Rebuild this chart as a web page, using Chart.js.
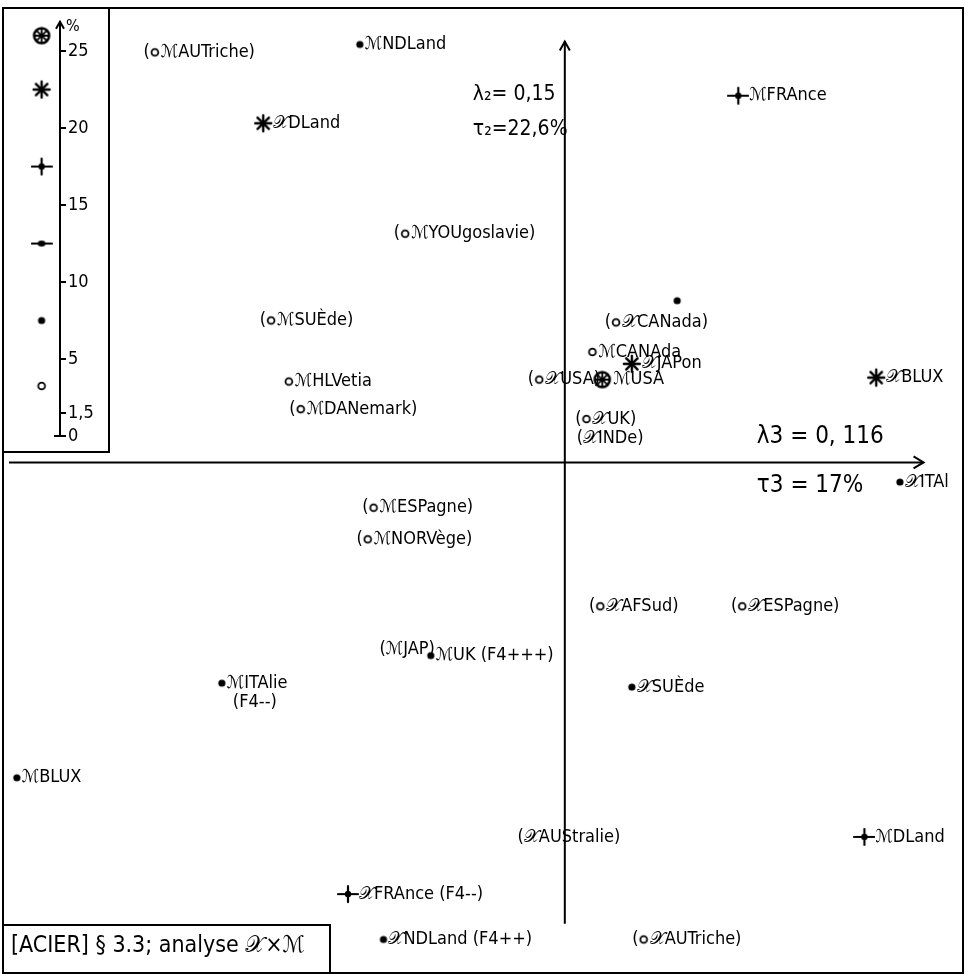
<!DOCTYPE html>
<html lang="fr">
<head>
<meta charset="UTF-8">
<title>ACIER - analyse X x M</title>
<script src="https://cdn.jsdelivr.net/npm/chart.js@4.4.1/dist/chart.umd.min.js"></script>
<style>
  html, body { margin: 0; padding: 0; background: #fff; }
  #wrap { position: relative; width: 968px; height: 977px; }
  #main { position: absolute; left: 0; top: 0; }
  #legendBox { position: absolute; left: 2px; top: 7px; width: 104px; height: 442px;
               border: 2px solid #000; background: #fff; }
</style>
</head>
<body>
<div id="wrap">
  <canvas id="main" width="968" height="977"></canvas>
  <div id="legendBox"><canvas id="scale" width="104" height="442"></canvas></div>
</div>

<script>
    // points of the plane (factor 3 horizontal, factor 2 vertical)
    const names = ['ℳAUTriche', 'ℳNDLand', '𝒳DLand', 'ℳFRAnce', 'ℳYOUgoslavie', 'ℳSUÈde',
        'ℳHLVetia', 'ℳDANemark', '', '𝒳CANada', 'ℳCANAda', '𝒳JAPon', '𝒳USA', 'ℳUSA',
        '𝒳BLUX', '𝒳UK', '𝒳INDe', '𝒳ITAl', 'ℳESPagne', 'ℳNORVège', '𝒳AFSud', '𝒳ESPagne',
        'ℳJAP', 'ℳUK', 'ℳITAlie', '𝒳SUÈde', 'ℳBLUX', '𝒳AUStralie', 'ℳDLand', '𝒳FRAnce',
        '𝒳NDLand', '𝒳AUTriche'];
    const factor3 = [-1.04, -0.52, -0.765, 0.44, -0.405, -0.745, -0.70, -0.67, 0.285, 0.13,
        0.07, 0.17, -0.065, 0.095, 0.79, 0.055, 0.03, 0.85, -0.485, -0.50, 0.09, 0.45,
        -0.47, -0.34, -0.87, 0.17, -1.39, -0.12, 0.76, -0.55, -0.46, 0.20];
    const factor2 = [1.04, 1.06, 0.86, 0.93, 0.58, 0.36, 0.205, 0.135, 0.41, 0.355,
        0.28, 0.25, 0.21, 0.21, 0.215, 0.11, 0.06, -0.05, -0.115, -0.195, -0.365, -0.365,
        -0.475, -0.49, -0.56, -0.57, -0.8, -0.95, -0.95, -1.095, -1.21, -1.21];
    // contribution class of each point (see the scale in the corner)
    const kinds = ['ring', 'dot', 'star', 'cross', 'ring', 'ring', 'ring', 'ring', 'dot', 'ring',
        'ring', 'star', 'ring', 'big', 'star', 'ring', 'none', 'dot', 'ring', 'ring', 'ring', 'ring',
        'none', 'dot', 'dot', 'dot', 'dot', 'none', 'cross', 'cross', 'dot', 'ring'];
    const inParens = [1, 0, 0, 0, 1, 1, 0, 1, 0, 1, 0, 0, 1, 0, 0, 1, 1, 0, 1, 1, 1, 1,
        1, 0, 0, 0, 0, 1, 0, 0, 0, 1];
    const notes = {23: '(F4+++)', 24: '\n(F4--)', 29: '(F4--)', 30: '(F4++)'};

    // scale of contributions (%)
    const legendLevels = [26, 22.5, 17.5, 12.5, 7.5, 3.25];
    const legendKinds = ['big', 'star', 'cross', 'dash', 'dot', 'ring'];
    const legendTicks = [0, 1.5, 5, 10, 15, 20, 25];

    const FONT = '"DejaVu Sans Condensed", "DejaVu Sans", sans-serif';

    function makeMark(kind) {
        const c = document.createElement('canvas');
        c.width = 22; c.height = 22;
        const g = c.getContext('2d');
        g.strokeStyle = '#000'; g.fillStyle = '#000'; g.lineCap = 'round';
        g.translate(11, 11);
        if (kind === 'big') {
            g.lineWidth = 2.6;
            g.beginPath(); g.arc(0, 0, 7.5, 0, Math.PI * 2); g.stroke();
            g.lineWidth = 1.8;
            for (let k = 0; k < 4; k++) {
                const a = k * Math.PI / 4;
                g.beginPath(); g.moveTo(-7 * Math.cos(a), -7 * Math.sin(a));
                g.lineTo(7 * Math.cos(a), 7 * Math.sin(a)); g.stroke();
            }
        } else if (kind === 'star') {
            g.lineWidth = 2.4;
            for (let k = 0; k < 4; k++) {
                const a = k * Math.PI / 4;
                g.beginPath(); g.moveTo(-8 * Math.cos(a), -8 * Math.sin(a));
                g.lineTo(8 * Math.cos(a), 8 * Math.sin(a)); g.stroke();
            }
        } else if (kind === 'cross') {
            g.lineWidth = 2.2;
            g.beginPath(); g.moveTo(-10, 0); g.lineTo(10, 0); g.moveTo(0, -8); g.lineTo(0, 8); g.stroke();
            g.beginPath(); g.arc(0, 0, 3.2, 0, Math.PI * 2); g.fill();
        } else if (kind === 'dash') {
            g.lineWidth = 2.2;
            g.beginPath(); g.moveTo(-10, 0); g.lineTo(10, 0); g.stroke();
            g.beginPath(); g.ellipse(0, 0, 4, 3, 0, 0, Math.PI * 2); g.fill();
        } else if (kind === 'dot') {
            g.beginPath(); g.arc(0, 0, 3.6, 0, Math.PI * 2); g.fill();
        } else if (kind === 'ring') {
            g.lineWidth = 1.8;
            g.beginPath(); g.arc(0, 0, 3.4, 0, Math.PI * 2); g.stroke();
        }
        return c;
    }
    const marks = {};
    ['big', 'star', 'cross', 'dash', 'dot', 'ring'].forEach(k => marks[k] = makeMark(k));
    const markGap = {big: 11, star: 10, cross: 11, dash: 11, dot: 5, ring: 6, none: 0};

    const framePlugin = {
        id: 'frame',
        beforeDatasetsDraw(chart) {
            const ctx = chart.ctx;
            const x = chart.scales.x, y = chart.scales.y;
            ctx.save();
            ctx.strokeStyle = '#000'; ctx.fillStyle = '#000';
            ctx.lineWidth = 2;
            ctx.strokeRect(3, 8, 960, 965);
            // axes through the origin
            const x0 = x.getPixelForValue(0), y0 = y.getPixelForValue(0);
            const top = y.getPixelForValue(1.0675), bottom = y.getPixelForValue(-1.17);
            const left = x.getPixelForValue(-1.41), right = x.getPixelForValue(0.91);
            ctx.beginPath();
            ctx.moveTo(x0, bottom); ctx.lineTo(x0, top);
            ctx.moveTo(left, y0); ctx.lineTo(right, y0);
            ctx.stroke();
            ctx.beginPath();
            ctx.moveTo(x0 - 5, top + 9); ctx.lineTo(x0, top); ctx.lineTo(x0 + 5, top + 9);
            ctx.moveTo(right - 10, y0 - 6); ctx.lineTo(right, y0); ctx.lineTo(right - 10, y0 + 6);
            ctx.stroke();
            // eigenvalues and inertia rates
            ctx.font = '21px ' + FONT;
            ctx.textBaseline = 'middle'; ctx.textAlign = 'left';
            ctx.fillText('λ₂= 0,15', x0 - 92, 95);
            ctx.fillText('τ₂=22,6%', x0 - 92, 130);
            ctx.font = '24px ' + FONT;
            ctx.fillText('λ3 = 0, 116', x0 + 192, 437);
            ctx.fillText('τ3 = 17%', x0 + 192, 486);
            // title box
            ctx.fillStyle = '#fff';
            ctx.fillRect(3, 925, 327, 48);
            ctx.strokeRect(3, 925, 327, 48);
            ctx.fillStyle = '#000';
            ctx.font = '23px ' + FONT;
            ctx.fillText('[ACIER] § 3.3; analyse 𝒳×ℳ', 11, 946);
            ctx.restore();
        }
    };

    const labelPlugin = {
        id: 'labels',
        afterDatasetsDraw(chart) {
            const ctx = chart.ctx;
            const meta = chart.getDatasetMeta(0);
            ctx.save();
            ctx.beginPath(); ctx.rect(4, 9, 958, 963); ctx.clip();
            ctx.font = '18px ' + FONT;
            ctx.fillStyle = '#000';
            ctx.textBaseline = 'middle';
            meta.data.forEach((pt, i) => {
                if (!names[i]) return;
                const gap = markGap[kinds[i]];
                let text = names[i];
                if (inParens[i]) {
                    if (kinds[i] === 'none') {
                        text = '(' + text;
                    } else {
                        ctx.textAlign = 'right';
                        ctx.fillText('(', pt.x - gap + 1, pt.y);
                    }
                    text += ')';
                }
                const note = notes[i];
                if (note && note[0] !== '\n') text += ' ' + note;
                ctx.textAlign = 'left';
                ctx.fillText(text, pt.x + gap, pt.y);
                if (note && note[0] === '\n') ctx.fillText(note.slice(1), pt.x + gap + 6, pt.y + 19);
            });
            ctx.restore();
        }
    };

    new Chart(document.getElementById('main'), {
        type: 'scatter',
        data: {
            datasets: [{
                data: names.map((n, i) => ({x: factor3[i], y: factor2[i]})),
                pointStyle: c => marks[kinds[c.dataIndex]] || 'circle',
                pointRadius: c => kinds[c.dataIndex] === 'none' ? 0 : 6,
                pointHoverRadius: c => kinds[c.dataIndex] === 'none' ? 0 : 6,
                backgroundColor: '#000',
                borderColor: '#000'
            }]
        },
        options: {
            responsive: false,
            animation: false,
            events: [],
            layout: {padding: 0},
            plugins: {legend: {display: false}, tooltip: {enabled: false}},
            scales: {
                x: {display: false, min: -1.415, max: 1.005},
                y: {display: false, min: -1.2875, max: 1.155}
            }
        },
        plugins: [framePlugin, labelPlugin]
    });

    const scaleDeco = {
        id: 'scaleDeco',
        afterDraw(chart) {
            const ctx = chart.ctx;
            const a = chart.chartArea;
            ctx.save();
            ctx.strokeStyle = '#000'; ctx.fillStyle = '#000'; ctx.lineWidth = 2;
            ctx.beginPath();
            ctx.moveTo(a.right - 4, a.top + 7); ctx.lineTo(a.right, a.top); ctx.lineTo(a.right + 4, a.top + 7);
            ctx.moveTo(a.right - 6, a.bottom); ctx.lineTo(a.right, a.bottom);
            ctx.stroke();
            ctx.font = '16px ' + FONT;
            ctx.textBaseline = 'middle';
            ctx.fillText('%', a.right + 6, a.top + 5);
            ctx.restore();
        }
    };

    new Chart(document.getElementById('scale'), {
        type: 'scatter',
        data: {
            datasets: [{
                data: legendLevels.map(v => ({x: 0, y: v})),
                pointStyle: c => marks[legendKinds[c.dataIndex]],
                pointRadius: 6,
                pointHoverRadius: 6
            }]
        },
        options: {
            responsive: false,
            animation: false,
            events: [],
            layout: {padding: {top: 4, bottom: 15, left: 0, right: 0}},
            plugins: {legend: {display: false}, tooltip: {enabled: false}},
            scales: {
                x: {display: false, min: -0.625, max: 0.375},
                y: {
                    position: 'right',
                    min: 0, max: 26.9,
                    afterBuildTicks: s => { s.ticks = legendTicks.map(v => ({value: v})); },
                    afterFit: s => { s.width = 48; },
                    border: {color: '#000', width: 2},
                    grid: {drawOnChartArea: false, color: '#000', lineWidth: 2, tickLength: 6},
                    ticks: {
                        color: '#000', padding: 2,
                        font: {size: 18, family: FONT},
                        callback: v => String(v).replace('.', ',')
                    }
                }
            }
        },
        plugins: [scaleDeco]
    });
</script>
</body>
</html>
